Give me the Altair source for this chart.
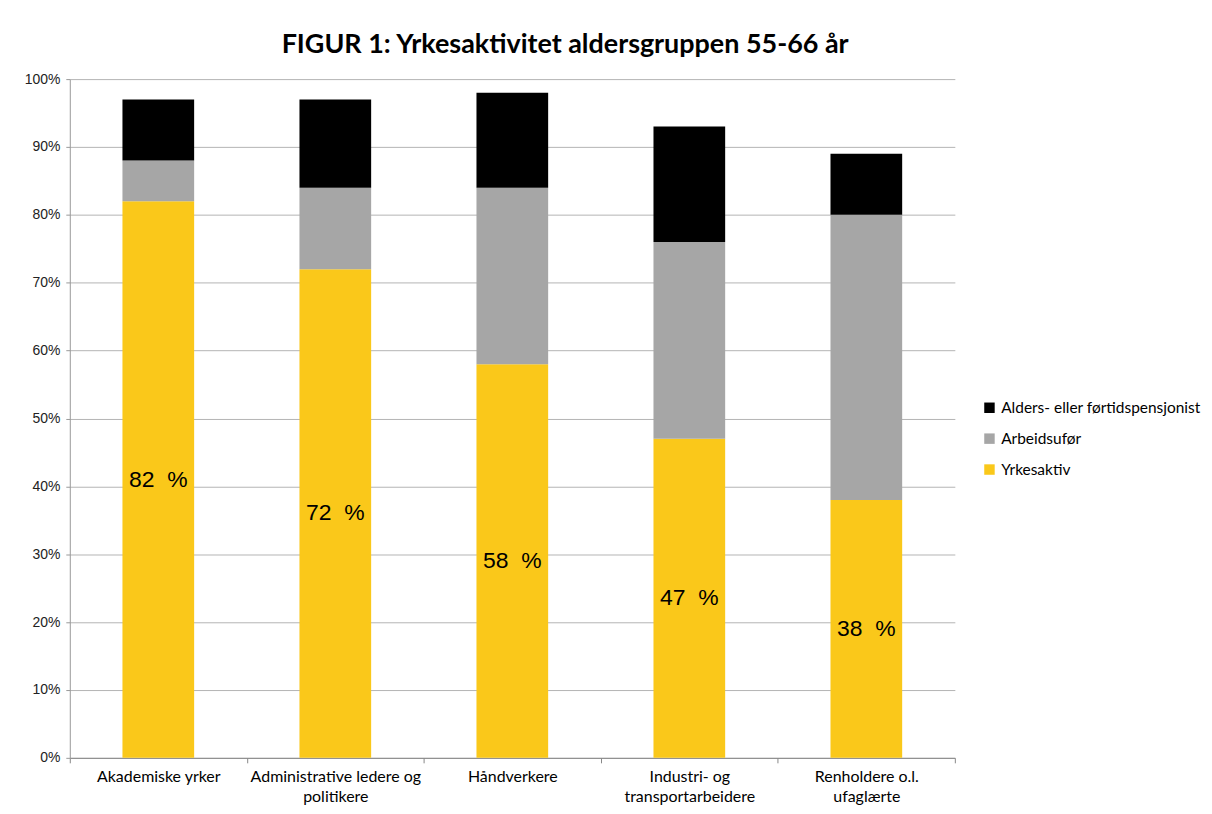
import altair as alt
import pandas as pd

categories = [
    "Akademiske yrker",
    "Administrative ledere og|politikere",
    "Håndverkere",
    "Industri- og|transportarbeidere",
    "Renholdere o.l.|ufaglærte",
]
series = ["Alders- eller førtidspensjonist", "Arbeidsufør", "Yrkesaktiv"]
colors = ["#000000", "#A6A6A6", "#FAC81A"]
yrkesaktiv = [82, 72, 58, 47, 38]
arbeidsufor = [6, 12, 26, 29, 42]
pensjonist = [9, 13, 14, 17, 9]
y_ticks = [0, 10, 20, 30, 40, 50, 60, 70, 80, 90, 100]

rows = []
for i, c in enumerate(categories):
    rows.append({"cat": c, "serie": "Yrkesaktiv", "val": yrkesaktiv[i], "rank": 0})
    rows.append({"cat": c, "serie": "Arbeidsufør", "val": arbeidsufor[i], "rank": 1})
    rows.append({"cat": c, "serie": "Alders- eller førtidspensjonist", "val": pensjonist[i], "rank": 2})
df = pd.DataFrame(rows)

lab = pd.DataFrame({"cat": categories, "val": yrkesaktiv})
lab["mid"] = lab["val"] / 2
lab["txt"] = lab["val"].astype(str) + "\u00a0\u00a0%"

xenc = alt.X(
    "cat:N",
    sort=categories,
    scale=alt.Scale(paddingInner=0, paddingOuter=0),
    axis=alt.Axis(
        title=None,
        labelAngle=0,
        labelExpr="split(datum.label, '|')",
        labelFont="Lato",
        labelFontSize=16,
        labelColor="#000000",
        labelLineHeight=20,
        labelPadding=6,
        tickBand="extent",
        tickSize=5,
        tickColor="#888888",
        domainColor="#888888",
        grid=False,
    ),
)

bars = alt.Chart(df).mark_bar(width=alt.RelativeBandSize(0.405)).encode(
    x=xenc,
    y=alt.Y(
        "val:Q",
        stack="zero",
        scale=alt.Scale(domain=[0, 100], nice=False),
        axis=alt.Axis(
            title=None,
            values=y_ticks,
            labelExpr="datum.value + '%'",
            labelFont="Liberation Sans",
            labelFontSize=14,
            labelColor="#222222",
            labelPadding=6,
            tickSize=4,
            tickColor="#999999",
            domainColor="#999999",
            gridColor="#B4B4B4",
            gridWidth=1,
        ),
    ),
    color=alt.Color(
        "serie:N",
        scale=alt.Scale(domain=series, range=colors),
        legend=alt.Legend(
            title=None,
            orient="none",
            legendX=915,
            legendY=322,
            symbolType="square",
            symbolSize=110,
            symbolStrokeWidth=0,
            labelFont="Lato",
            labelFontSize=15.5,
            labelColor="#000000",
            labelLimit=320,
            rowPadding=14,
            labelOffset=4,
        ),
    ),
    order=alt.Order("rank:Q", sort="ascending"),
)

text = alt.Chart(lab).mark_text(
    font="Liberation Sans", fontSize=23, color="#000000", baseline="middle", align="center"
).encode(
    x=alt.X("cat:N", sort=categories),
    y=alt.Y("mid:Q"),
    text="txt:N",
)

chart = (
    alt.layer(bars, text)
    .properties(
        width=888,
        height=681,
        title=alt.TitleParams(
            "FIGUR 1: Yrkesaktivitet aldersgruppen 55-66 år",
            font="Lato",
            fontSize=27,
            fontWeight="bold",
            color="#000000",
            anchor="middle",
            dx=53,
            offset=13,
        ),
        padding={"left": 62, "top": 70, "right": 250, "bottom": 50},
        autosize=alt.AutoSizeParams(type="none"),
    )
    .configure_view(stroke=None)
)

chart.save("out.html", embed_options={"renderer": "svg", "actions": False})
